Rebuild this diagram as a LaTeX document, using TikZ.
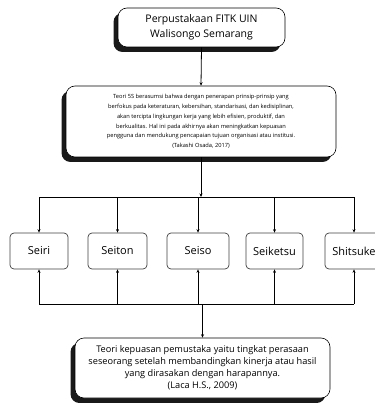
\documentclass[tikz,border=0pt]{standalone}
\usepackage{fontspec}
\setmainfont{Open Sans}
\usetikzlibrary{arrows.meta,shadows}
\begin{document}
\begin{tikzpicture}[x=1pt,y=-1pt,
  arr/.style={-{Stealth[length=3.5pt,width=3pt]},line width=0.8pt},
  line/.style={line width=0.8pt},
  shadowbox/.style={draw=black,line width=0.6pt,fill=white,rounded corners=9pt,
    inner sep=0pt,align=center,
    drop shadow={shadow xshift=-4.5pt,shadow yshift=-5pt,opacity=1,fill=black!90}},
  sbox/.style={draw=black!75,line width=0.7pt,fill=white,rounded corners=4pt,
    inner sep=0pt,minimum height=36pt,font=\fontsize{11}{13}\selectfont}
]
\useasboundingbox (0,0) rectangle (374,403);
\node[shadowbox,minimum width=167pt,minimum height=39pt,
  font=\fontsize{10.5}{15}\selectfont] (top) at (201.5,27.5)
  {Perpustakaan FITK UIN\\Walisongo Semarang};
\node[shadowbox,minimum width=270pt,minimum height=71pt,
  font=\fontsize{5.7}{9.8}\selectfont] (mid) at (201,121.5)
  {Teori 5S berasumsi bahwa dengan penerapan prinsip-prinsip yang\\
   berfokus pada keteraturan, kebersihan, standarisasi, dan kedisiplinan,\\
   akan tercipta lingkungan kerja yang lebih efisien, produktif, dan\\
   berkualitas. Hal ini pada akhirnya akan meningkatkan kepuasan\\
   pengguna dan mendukung pencapaian tujuan organisasi atau institusi.\\
   (Takashi Osada, 2017)};
\node[sbox,minimum width=58pt] (seiri) at (39,251) {Seiri};
\node[sbox,minimum width=59pt] (seiton) at (117.5,251) {Seiton};
\node[sbox,minimum width=62pt] (seiso) at (198,251) {Seiso};
\node[sbox,minimum width=57pt] (seiketsu) at (274.5,251) {Seiketsu};
\node[sbox,minimum width=58pt] (shitsuke) at (354,251) {Shitsuke};
\node[shadowbox,minimum width=255pt,minimum height=60pt,
  font=\fontsize{9.2}{12}\selectfont] (bot) at (202.5,368)
  {Teori kepuasan pemustaka yaitu tingkat perasaan\\
   seseorang setelah membandingkan kinerja atau hasil\\
   yang dirasakan dengan harapannya.\\
   (Laca H.S., 2009)};
\draw[arr] (top.south) -- (mid.north);
\coordinate (tbar) at (mid.south |- 0,197);
\draw[arr] (mid.south) -- (tbar);
\draw[line] (seiri.north |- tbar) -- (shitsuke.north |- tbar);
\foreach \n in {seiri,seiton,seiso,seiketsu,shitsuke}
  \draw[arr] (\n.north |- tbar) -- (\n.north);
\coordinate (bbar) at (bot.north |- 0,304);
\draw[line] (seiri.south |- bbar) -- (shitsuke.south |- bbar);
\foreach \n in {seiri,seiton,seiso,seiketsu,shitsuke}
  \draw[arr] (\n.south |- bbar) -- (\n.south);
\draw[arr] (bbar) -- (bot.north);
\end{tikzpicture}
\end{document}
